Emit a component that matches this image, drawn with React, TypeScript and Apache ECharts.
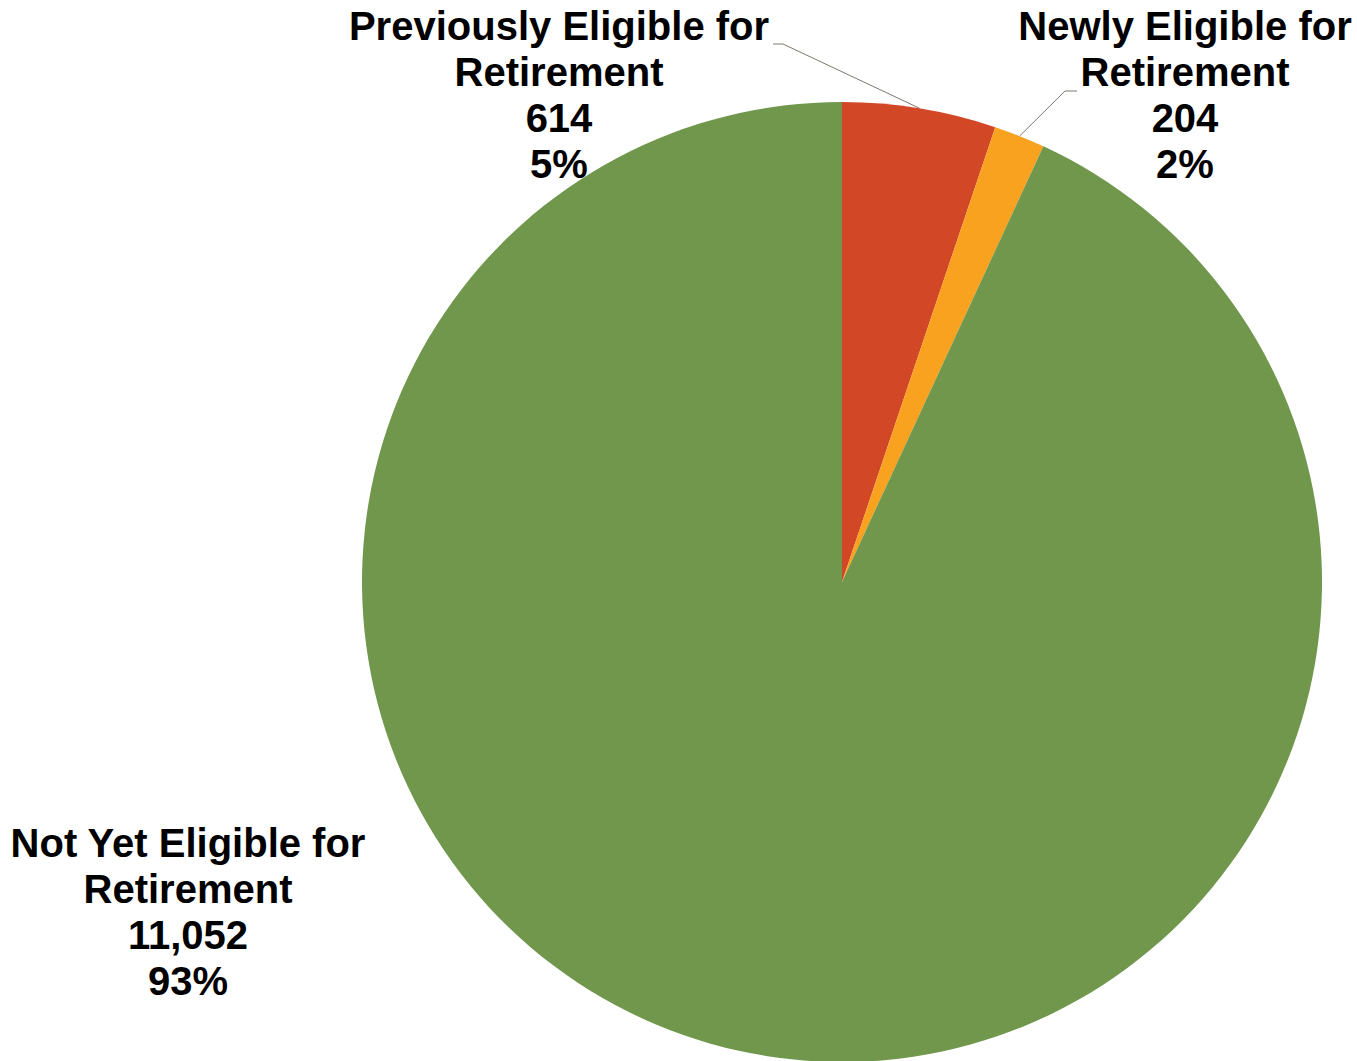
import React, { useEffect, useRef } from "react";
import * as echarts from "echarts";

const categories = [
  "Previously Eligible for\nRetirement",
  "Newly Eligible for\nRetirement",
  "Not Yet Eligible for\nRetirement",
];
const values = [614, 204, 11052];
const colors = ["#D24726", "#F8A21F", "#70974B"];

// layout constants (pixels)
const CX = 842;
const CY = 582;
const R = 480;
const labelPos = [
  [559, 95],
  [1185, 95],
  [188, 912],
];
const leaderKnee = [
  [[783, 44], [773, 44]],
  [[1065, 91], [1077, 91]],
  null,
];

export default function App() {
  const ref = useRef<HTMLDivElement>(null);
  useEffect(() => {
    if (!ref.current) return;
    const chart = echarts.init(ref.current, null, { renderer: "svg" });
    const total = values.reduce((a, b) => a + b, 0);
    const anchors: number[][] = [];
    let cum = 0;
    values.forEach((v) => {
      const mid = ((cum + v / 2) / total) * 2 * Math.PI;
      anchors.push([CX + R * Math.sin(mid), CY - R * Math.cos(mid)]);
      cum += v;
    });
    chart.setOption({
      animation: false,
      backgroundColor: "#ffffff",
      series: [
        {
          type: "pie",
          center: [CX, CY],
          radius: R,
          startAngle: 90,
          clockwise: true,
          avoidLabelOverlap: false,
          data: categories.map((name, i) => ({
            name,
            value: values[i],
            itemStyle: { color: colors[i] },
            labelLine: { show: i < 2 },
          })),
          label: {
            show: true,
            position: "outside",
            formatter: (p: any) =>
              `${p.name}\n${Number(p.value).toLocaleString("en-US")}\n${Math.round(
                (p.value / total) * 100
              )}%`,
            fontFamily: "'Liberation Sans', Arial, sans-serif",
            fontWeight: "bold",
            fontSize: 40,
            lineHeight: 46,
            color: "#000000",
            align: "center",
          },
          labelLine: {
            show: true,
            lineStyle: { color: "#7f7770", width: 1 },
          },
          labelLayout: (params: any) => {
            const i = params.dataIndex;
            const out: any = {
              x: labelPos[i][0],
              y: labelPos[i][1],
              align: "center",
              verticalAlign: "middle",
            };
            const k = leaderKnee[i];
            if (k) {
              out.labelLinePoints = [anchors[i], k[0], k[1]];
            }
            return out;
          },
        },
      ],
    });
    return () => chart.dispose();
  }, []);
  return (
    <div
      ref={ref}
      style={{ position: "absolute", left: 0, top: 0, width: 1357, height: 1061 }}
    />
  );
}
